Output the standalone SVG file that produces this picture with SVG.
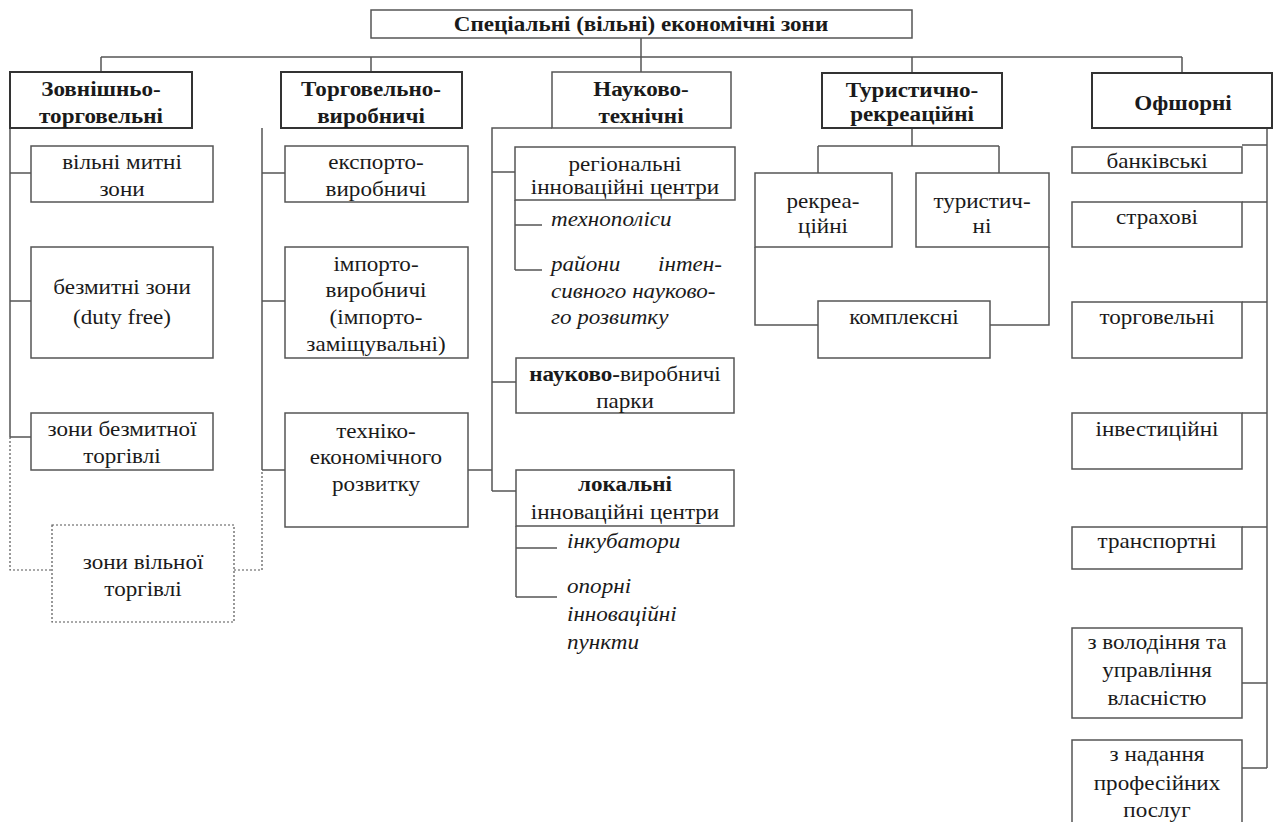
<svg xmlns="http://www.w3.org/2000/svg" width="1276" height="822" viewBox="0 0 1276 822">
<style>
.bg{fill:#fff}
.b1{fill:#fff;stroke:#333;stroke-width:2}
.b2{fill:#fff;stroke:#555;stroke-width:1.5}
.bd{fill:#fff;stroke:#555;stroke-width:1.2;stroke-dasharray:2 2}
.ln{fill:none;stroke:#555;stroke-width:1.5}
.dl{fill:none;stroke:#555;stroke-width:1.2;stroke-dasharray:2 2}
text{font-family:"Liberation Serif","Times New Roman",serif;fill:#1a1a1a;font-size:21px}
.c{text-anchor:middle}
.h{font-weight:bold}
.i{font-style:italic}
.e{text-anchor:end}
</style>
<rect class="bg" x="0" y="0" width="1276" height="822"/>
<g id="connectors">
<path class="ln" d="M641 38V72 M101 57H1182 M101 57V72 M371 57V72 M912 57V73 M1182 57V73"/>
<path class="ln" d="M10 128V437 M10 173H31 M10 301H31 M10 437H31"/>
<path class="dl" d="M10 437V570H52 M234 570H262V470"/>
<path class="ln" d="M262 128V470 M262 173H285 M262 301H285 M262 470H285 M468 470H492"/>
<path class="ln" d="M552 128H492V491 M492 172H515 M492 382H516 M492 491H516"/>
<path class="ln" d="M515 200V270 M515 225H542 M515 270H542"/>
<path class="ln" d="M516 526V597 M516 548H557 M516 597H557"/>
<path class="ln" d="M912 128V146 M818 146H999 M818 146V173 M999 146V173 M755 247V325H818 M990 325H1049V247"/>
<path class="ln" d="M1267 128V768 M1242 145H1267 M1242 202H1267 M1242 302H1267 M1242 413H1267 M1242 527H1267 M1242 683H1267 M1242 768H1267"/>
</g>
<g id="root">
<rect class="b2" x="371" y="10" width="541" height="28"/>
<text class="c h" transform="translate(641,31) scale(1.1,1)" font-size="20">Спеціальні (вільні) економічні зони</text>
</g>
<g id="zovn">
<rect class="b1" x="10" y="72" width="182" height="56"/>
<text class="c h" transform="translate(101,96) scale(1.1,1)"><tspan x="0" y="0">Зовнішньо-</tspan><tspan x="0" y="27">торговельні</tspan></text>
</g>
<g id="torh">
<rect class="b1" x="281" y="72" width="181" height="56"/>
<text class="c h" transform="translate(371,96) scale(1.1,1)"><tspan x="0" y="0">Торговельно-</tspan><tspan x="0" y="27">виробничі</tspan></text>
</g>
<g id="nauk">
<rect class="b2" x="552" y="72" width="179" height="56"/>
<text class="c h" transform="translate(641,96) scale(1.1,1)"><tspan x="0" y="0">Науково-</tspan><tspan x="0" y="27">технічні</tspan></text>
</g>
<g id="tur">
<rect class="b1" x="822" y="73" width="180" height="55"/>
<text class="c h" transform="translate(912,97) scale(1.1,1)"><tspan x="0" y="0">Туристично-</tspan><tspan x="0" y="24">рекреаційні</tspan></text>
</g>
<g id="ofsh">
<rect class="b1" x="1092" y="73" width="180" height="55"/>
<text class="c h" transform="translate(1183,110) scale(1.1,1)">Офшорні</text>
</g>
<g id="vmz">
<rect class="b2" x="31" y="146" width="182" height="56"/>
<text class="c" transform="translate(122,169) scale(1.1,1)"><tspan x="0" y="0">вільні митні</tspan><tspan x="0" y="27">зони</tspan></text>
</g>
<g id="bz">
<rect class="b2" x="31" y="247" width="182" height="111"/>
<text class="c" transform="translate(122,294) scale(1.1,1)"><tspan x="0" y="0">безмитні зони</tspan><tspan x="0" y="30">(duty free)</tspan></text>
</g>
<g id="zbt">
<rect class="b2" x="31" y="413" width="182" height="57"/>
<text class="c" transform="translate(122,436) scale(1.1,1)"><tspan x="0" y="0">зони безмитної</tspan><tspan x="0" y="27">торгівлі</tspan></text>
</g>
<g id="zvt">
<rect class="bd" x="52" y="525" width="182" height="97"/>
<text class="c" transform="translate(143,569) scale(1.1,1)"><tspan x="0" y="0">зони вільної</tspan><tspan x="0" y="27">торгівлі</tspan></text>
</g>
<g id="eksp">
<rect class="b2" x="285" y="146" width="183" height="56"/>
<text class="c" transform="translate(376,169) scale(1.1,1)"><tspan x="0" y="0">експорто-</tspan><tspan x="0" y="27">виробничі</tspan></text>
</g>
<g id="imp">
<rect class="b2" x="285" y="247" width="183" height="111"/>
<text class="c" transform="translate(376,271) scale(1.1,1)"><tspan x="0" y="0">імпорто-</tspan><tspan x="0" y="26">виробничі</tspan><tspan x="0" y="53">(імпорто-</tspan><tspan x="0" y="80">заміщувальні)</tspan></text>
</g>
<g id="tekh">
<rect class="b2" x="285" y="413" width="183" height="114"/>
<text class="c" transform="translate(376,438) scale(1.1,1)"><tspan x="0" y="0">техніко-</tspan><tspan x="0" y="26">економічного</tspan><tspan x="0" y="53">розвитку</tspan></text>
</g>
<g id="reg">
<rect class="b2" x="515" y="147" width="220" height="53"/>
<text class="c" transform="translate(625,171) scale(1.1,1)"><tspan x="0" y="0">регіональні</tspan><tspan x="0" y="23">інноваційні центри</tspan></text>
</g>
<g id="tekhnop">
<text class="i" transform="translate(551,226) scale(1.1,1)">технополіси</text>
</g>
<g id="rayony">
<text class="i" transform="translate(551,271) scale(1.1,1)">райони</text>
<text class="i e" transform="translate(722,271) scale(1.1,1)">інтен-</text>
<text class="i" transform="translate(551,298) scale(1.1,1)">сивного науково-</text>
<text class="i" transform="translate(551,324) scale(1.1,1)">го розвитку</text>
</g>
<g id="nvp">
<rect class="b2" x="516" y="358" width="218" height="55"/>
<text class="c" transform="translate(625,381) scale(1.1,1)"><tspan x="0" y="0"><tspan class="h">науково-</tspan>виробничі</tspan><tspan x="0" y="27">парки</tspan></text>
</g>
<g id="lok">
<rect class="b2" x="516" y="470" width="218" height="56"/>
<text class="c" transform="translate(625,491) scale(1.1,1)"><tspan x="0" y="0" class="h">локальні</tspan><tspan x="0" y="28">інноваційні центри</tspan></text>
</g>
<g id="inkub">
<text class="i" transform="translate(567,548) scale(1.1,1)">інкубатори</text>
</g>
<g id="opor">
<text class="i" transform="translate(567,593) scale(1.1,1)"><tspan x="0" y="0">опорні</tspan><tspan x="0" y="28">інноваційні</tspan><tspan x="0" y="56">пункти</tspan></text>
</g>
<g id="rekr">
<rect class="b2" x="755" y="173" width="137" height="74"/>
<text class="c" transform="translate(823,208) scale(1.1,1)"><tspan x="0" y="0">рекреа-</tspan><tspan x="0" y="25">ційні</tspan></text>
</g>
<g id="turyst">
<rect class="b2" x="916" y="173" width="133" height="74"/>
<text class="c" transform="translate(982,208) scale(1.1,1)"><tspan x="0" y="0">туристич-</tspan><tspan x="0" y="25">ні</tspan></text>
</g>
<g id="kompl">
<rect class="b2" x="818" y="301" width="172" height="57"/>
<text class="c" transform="translate(904,324) scale(1.1,1)">комплексні</text>
</g>
<g id="bank">
<rect class="b2" x="1072" y="147" width="170" height="26"/>
<text class="c" transform="translate(1157,168) scale(1.1,1)">банківські</text>
</g>
<g id="strakh">
<rect class="b2" x="1072" y="202" width="170" height="45"/>
<text class="c" transform="translate(1157,224) scale(1.1,1)">страхові</text>
</g>
<g id="torg">
<rect class="b2" x="1072" y="302" width="170" height="56"/>
<text class="c" transform="translate(1157,324) scale(1.1,1)">торговельні</text>
</g>
<g id="invest">
<rect class="b2" x="1072" y="413" width="170" height="56"/>
<text class="c" transform="translate(1157,436) scale(1.1,1)">інвестиційні</text>
</g>
<g id="transp">
<rect class="b2" x="1072" y="527" width="170" height="42"/>
<text class="c" transform="translate(1157,548) scale(1.1,1)">транспортні</text>
</g>
<g id="volod">
<rect class="b2" x="1072" y="628" width="170" height="90"/>
<text class="c" transform="translate(1157,649) scale(1.1,1)"><tspan x="0" y="0">з володіння та</tspan><tspan x="0" y="28">управління</tspan><tspan x="0" y="56">власністю</tspan></text>
</g>
<g id="nadan">
<rect class="b2" x="1072" y="740" width="170" height="90"/>
<text class="c" transform="translate(1157,761) scale(1.1,1)"><tspan x="0" y="0">з надання</tspan><tspan x="0" y="29">професійних</tspan><tspan x="0" y="56">послуг</tspan></text>
</g>
</svg>
